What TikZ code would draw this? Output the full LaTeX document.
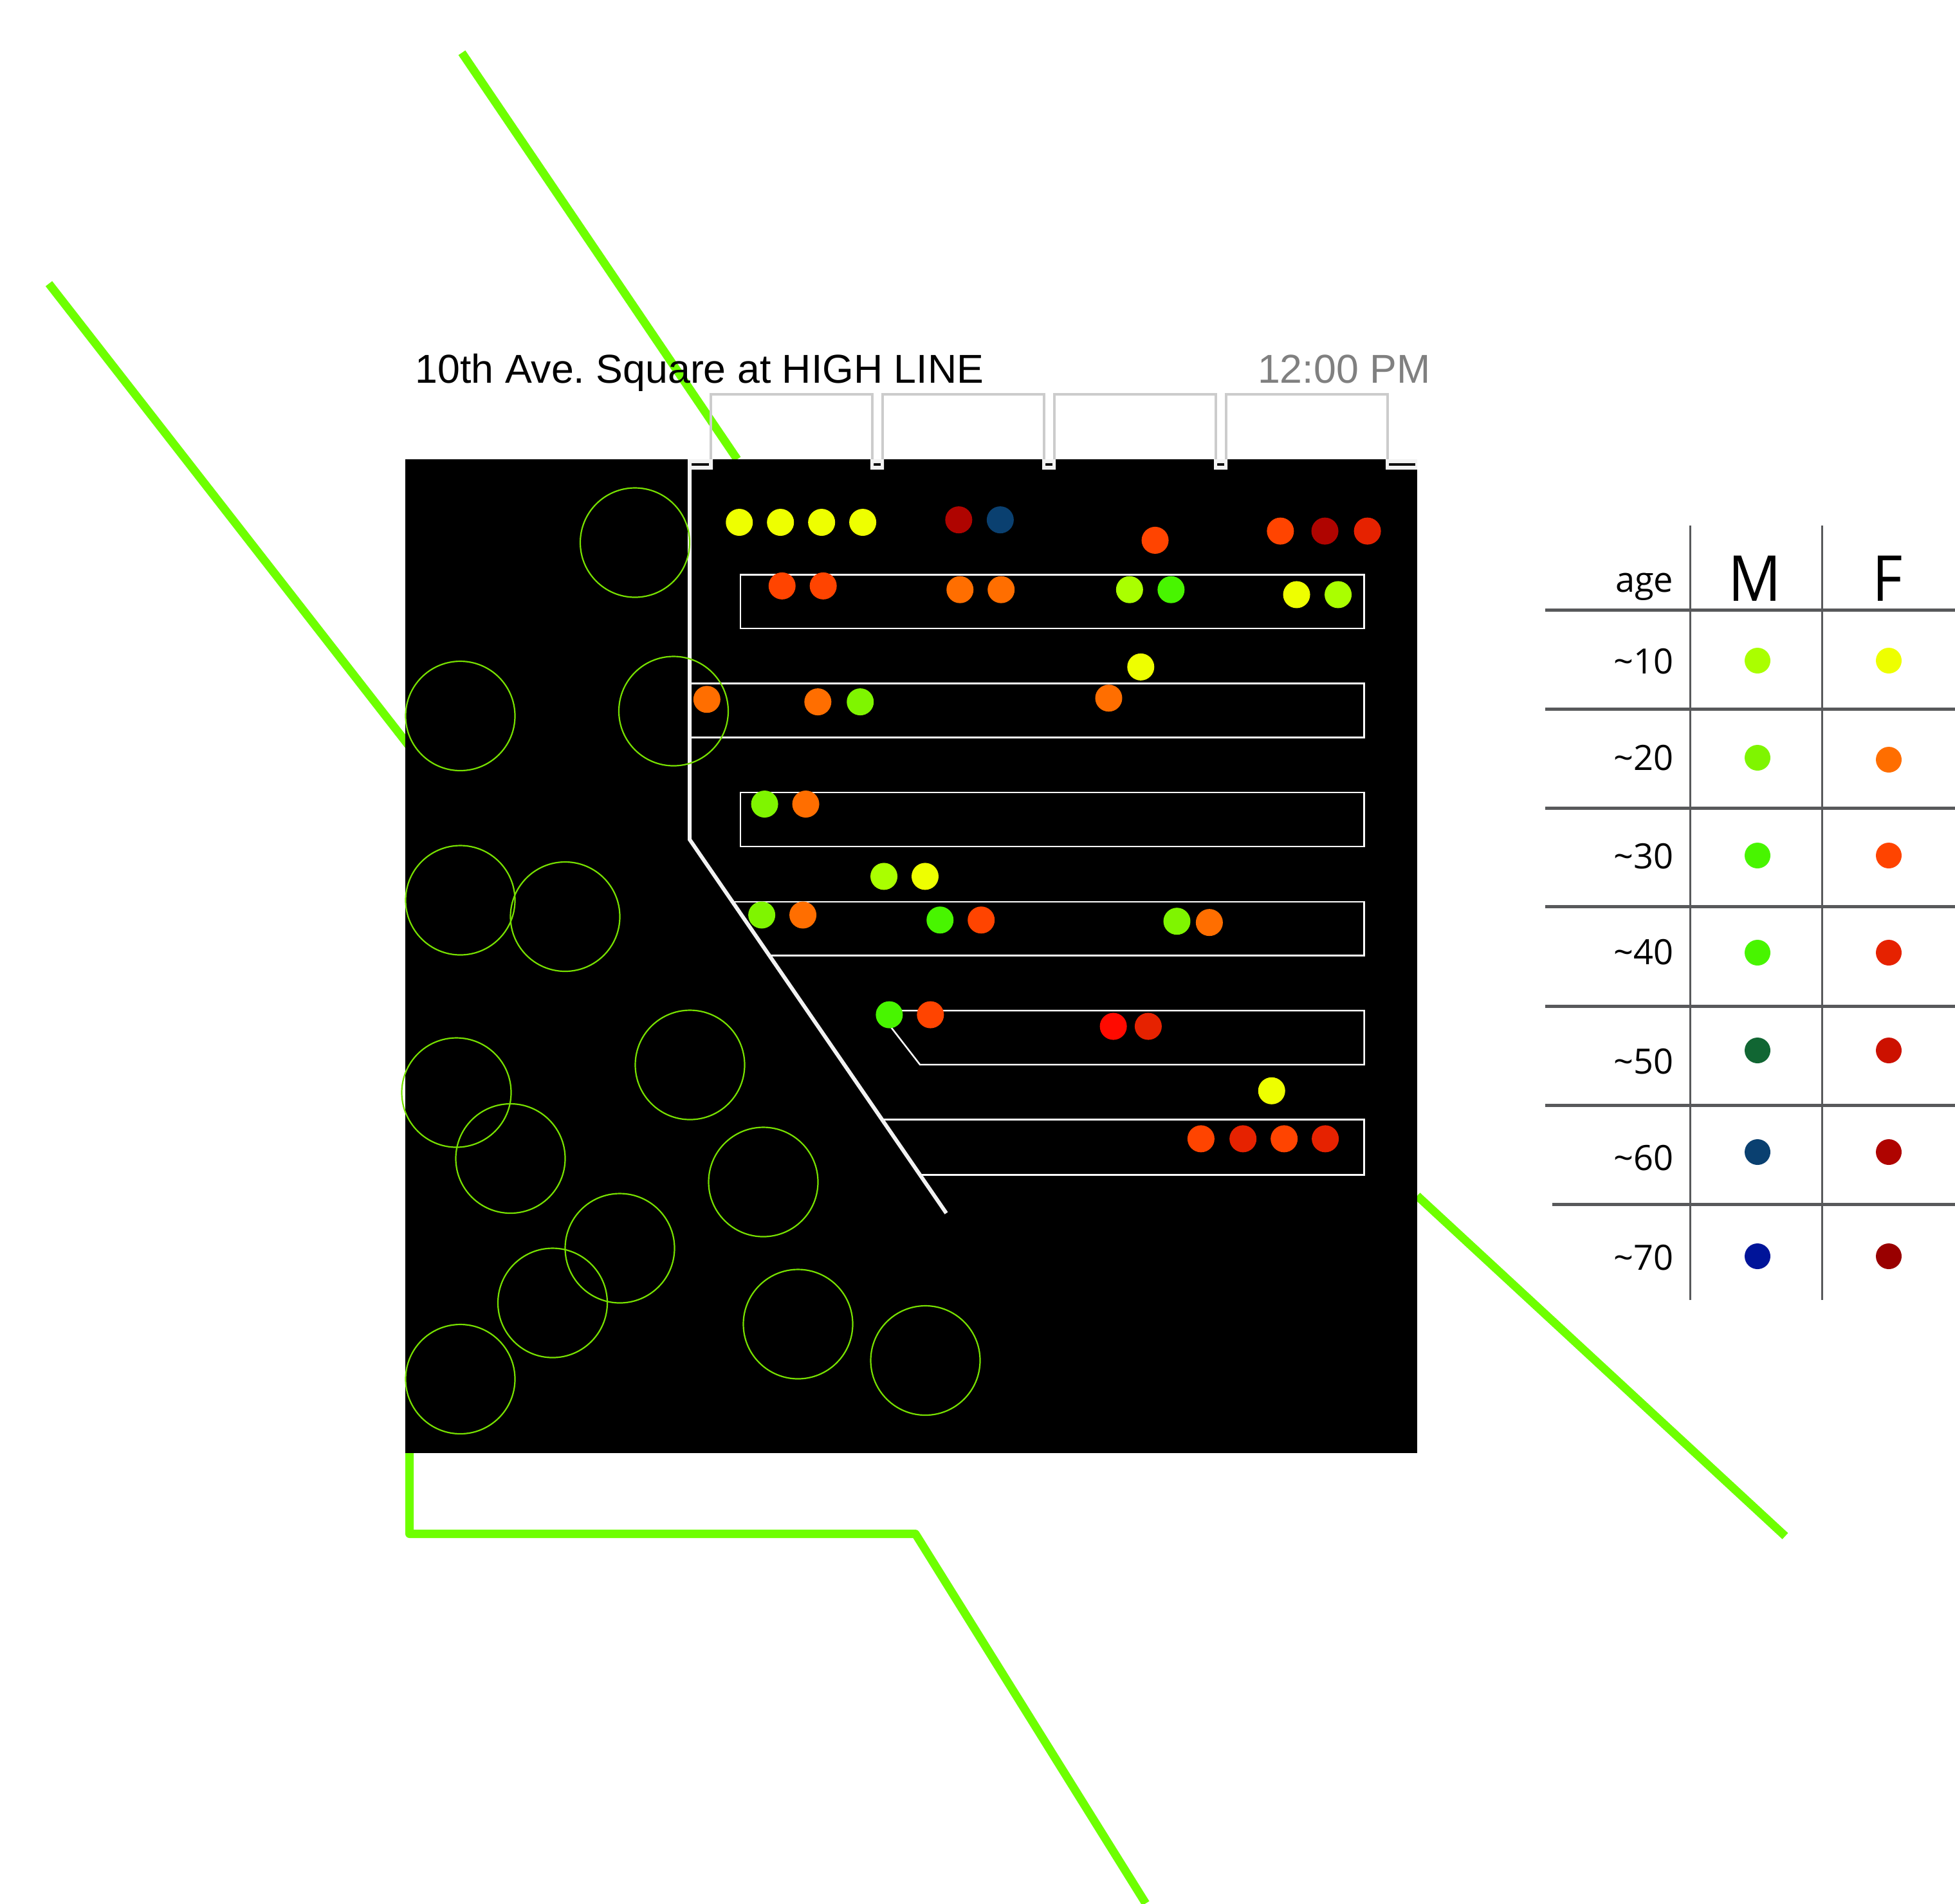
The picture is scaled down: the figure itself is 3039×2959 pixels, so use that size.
\documentclass[tikz,border=0pt]{standalone}
\usepackage{fontspec}
\setmainfont{Liberation Sans}
\newfontfamily\legendfont{Open Sans}
\newfontfamily\sexfont[FakeStretch=0.93]{Open Sans}
\definecolor{road}{HTML}{6EFF00}
\definecolor{bracketgray}{HTML}{CCCCCC}
\definecolor{treegreen}{HTML}{77E000}
\definecolor{rulegray}{HTML}{58595B}
\definecolor{paper}{HTML}{F2F2F2}
\definecolor{mA}{HTML}{AAFF00}
\definecolor{mB}{HTML}{7FF500}
\definecolor{mC}{HTML}{48F500}
\definecolor{mD}{HTML}{116633}
\definecolor{mE}{HTML}{0A4070}
\definecolor{mF}{HTML}{001499}
\definecolor{fA}{HTML}{EEFF00}
\definecolor{fB}{HTML}{FF6E00}
\definecolor{fC}{HTML}{FF4400}
\definecolor{fD}{HTML}{E62200}
\definecolor{fE}{HTML}{CC1100}
\definecolor{fF}{HTML}{AF0400}
\definecolor{fG}{HTML}{990000}
\definecolor{fH}{HTML}{FF0A00}
\tikzset{
  x=0.01cm,y=-0.01cm,
  road line/.style={draw=road,line width=13*0.01cm,line join=round},
  bracket line/.style={draw=bracketgray,line width=4*0.01cm},
  cap box/.style={fill=paper},
  walk line/.style={draw=paper,line width=6*0.01cm},
  bench line/.style={draw=white,line width=2.5*0.01cm},
  tree ring/.style={draw=treegreen,line width=2.2*0.01cm},
  hrule/.style={draw=rulegray,line width=5*0.01cm},
  vrule/.style={draw=rulegray,line width=3*0.01cm},
  title text/.style={inner sep=0,font=\fontsize{17.82pt}{20pt}\selectfont\frenchspacing},
  age text/.style={inner sep=0,anchor=base east,font=\legendfont\fontsize{15.4pt}{18pt}\selectfont},
  sex text/.style={inner sep=0,anchor=base,font=\sexfont\fontsize{28pt}{32pt}\selectfont},
}
\begin{document}
\begin{tikzpicture}
\useasboundingbox (0,0) rectangle (3039,2959);
\fill[white] (0,0) rectangle (3039,2959);
% green high line strips
\draw[road line] (718,82) -- (1146,714);
\draw[road line] (76,441) -- (640,1165);
\draw[road line] (2203,1859) -- (2775,2388);
\draw[road line] (636.5,2255) -- (636.5,2384.5) -- (1423,2384.5) -- (1781,2959);
% grey brackets
\foreach \bx in {1105,1372,1639,1906}
  \draw[bracket line] (\bx,716) -- (\bx,613) -- (\bx+251,613) -- (\bx+251,716);
% black ground
\fill[black] (630,714) rectangle (2203,2259);
% end caps
\fill[cap box,even odd rule] (1070,714) rectangle (1108,730) (1074.5,720) rectangle (1102,724);
\foreach \bx in {1353,1620,1887}
  \fill[cap box,even odd rule] (\bx,714) rectangle (\bx+21,730) (\bx+5,720) rectangle (\bx+16,724);
\fill[cap box,even odd rule] (2154,714) rectangle (2203,730) (2159,720) rectangle (2200,724);
% benches
\draw[bench line] (1151,893.5) rectangle (2120.5,977);
\draw[bench line] (1072,1062.5) -- (2120.5,1062.5) -- (2120.5,1146.5) -- (1072,1146.5);
\draw[bench line] (1151,1232) rectangle (2120.5,1316);
\draw[bench line] (1139,1402) -- (2120.5,1402) -- (2120.5,1485.5) -- (1196,1485.5);
\draw[bench line] (1365,1571) -- (2120.5,1571) -- (2120.5,1655) -- (1430,1655) -- cycle;
\draw[bench line] (1371,1740.5) -- (2120.5,1740.5) -- (2120.5,1826.5) -- (1430,1826.5);
% walkway
\draw[walk line] (1072,714) -- (1072,1305) -- (1471,1886);
% trees
\foreach \cx/\cy in {987/843.5,715.5/1113,1047/1105.5,715.5/1399.5,878.5/1425,709.5/1698.5,793.5/1801,1072.5/1655.5,1186.5/1837.5,963.5/1940.5,859/2025.5,1240.5/2058.5,1438.5/2115,715.5/2144}
  \draw[tree ring] (\cx,\cy) circle (85);
% people
\foreach \px/\py/\pc in {
 593/419/fA,626/419/fA,659/419/fA,692/419/fA,769/417/fF,802.3/417/mE,926.5/433.4/fC,1027/426/fC,1062.7/426/fF,1096.8/426/fD,
 627.3/470/fC,660.3/470/fC,770/473/fB,803/473/fB,906/473/mA,939.3/473/mC,1040/477/fA,1073.3/477/mA,
 915/535/fA,889.3/560/fB,567/561/fB,656/563/fB,690/563/mB,
 613.3/645/mB,646.3/645/fB,
 709/703/mA,742/703/fA,
 611/734/mB,644/734/fB,754/738/mC,787/738/fC,944/739/mB,970/740/fB,
 713.3/814/mC,746.3/814/fC,893/823.3/fH,921/823.3/fD,
 1020/875/fA,
 963.3/913.5/fC,997/913.5/fD,1030/913.5/fC,1063/913.5/fD}
  \fill[\pc] (\px*1.938,\py*1.938) circle (21);
% title
\node[title text,anchor=base west] (title) at (645,595) {10th Ave. Square at HIGH LINE};
\node[title text,anchor=base east,text={rgb,255:red,128;green,128;blue,128}] (clock) at (2224,595) {12:00 PM};
% legend grid
\foreach \ly in {948,1102,1256,1409,1564,1718}
  \draw[hrule] (2402,\ly) -- (3039,\ly);
\draw[hrule] (2413,1872) -- (3039,1872);
\draw[vrule] (2627,817) -- (2627,2021);
\draw[vrule] (2832,817) -- (2832,2021);
\node[age text] (ageh) at (2602,920) {age};
\node[sex text] (mh) at (2728,934) {M};
\node[sex text] (fh) at (2934,934) {F};
\node[age text] (a10) at (2602,1047) {\char`\~10};
\node[age text] (a20) at (2602,1197) {\char`\~20};
\node[age text] (a30) at (2602,1350) {\char`\~30};
\node[age text] (a40) at (2602,1499) {\char`\~40};
\node[age text] (a50) at (2602,1669) {\char`\~50};
\node[age text] (a60) at (2602,1819) {\char`\~60};
\node[age text] (a70) at (2602,1974) {\char`\~70};
\foreach \ly/\mc/\fc/\fy in {1027/mA/fA/1027,1178/mB/fB/1181,1330/mC/fC/1330,1481/mC/fD/1481,1633/mD/fE/1633,1791/mE/fF/1791,1953/mF/fG/1953}{
  \fill[\mc] (2732,\ly) circle (20);
  \fill[\fc] (2936,\fy) circle (20);
}
\end{tikzpicture}
\end{document}
